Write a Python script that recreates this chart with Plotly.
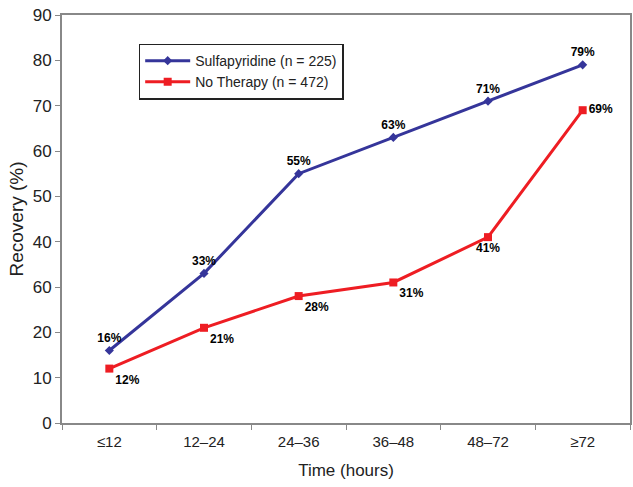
import plotly.graph_objects as go

categories = ["≤12", "12–24", "24–36", "36–48", "48–72", "≥72"]
sulfa = [16, 33, 55, 63, 71, 79]
no_therapy = [12, 21, 28, 31, 41, 69]
y_tickvals = [0, 10, 20, 30, 40, 50, 60, 70, 80, 90]
y_ticktext = ["0", "10", "20", "60", "40", "50", "60", "70", "80", "90"]

blue = "#35359A"
red = "#EE1D23"

lblfont = dict(family="Liberation Sans, Arial", size=12, color="black", weight="bold")

fig = go.Figure()
fig.add_trace(go.Scatter(
    x=categories, y=sulfa, name="Sulfapyridine (n = 225)",
    mode="lines+markers+text",
    line=dict(color=blue, width=3),
    marker=dict(symbol="diamond", size=7, color=blue),
    text=[f"{v}%" for v in sulfa], textposition="top center",
    textfont=lblfont,
))
fig.add_trace(go.Scatter(
    x=categories, y=no_therapy, name="No Therapy (n = 472)",
    mode="lines+markers+text",
    line=dict(color=red, width=3),
    marker=dict(symbol="square", size=8, color=red),
    text=[f"{v}%" for v in no_therapy],
    textposition=["bottom right", "bottom right", "bottom right", "bottom right", "bottom center", "middle right"],
    textfont=lblfont,
))

fig.update_layout(
    width=633, height=487,
    margin=dict(l=62, r=3, t=15, b=64),
    paper_bgcolor="white", plot_bgcolor="white",
    font=dict(family="Liberation Sans, Arial", color="#222"),
    showlegend=True,
    legend=dict(
        x=0.135, y=0.93, xanchor="left", yanchor="top",
        bordercolor="#222", borderwidth=1.5, bgcolor="white",
        font=dict(size=14, color="#222"),
        itemwidth=45, tracegroupgap=2,
    ),
)
fig.update_xaxes(
    type="category", range=[-0.5, 5.5], automargin=False,
    showline=True, linecolor="#888", linewidth=2, mirror=True,
    ticks="outside", tickson="boundaries", ticklen=5, tickcolor="#888",
    ticklabelstandoff=4,
    tickfont=dict(size=15, color="#222"),
    title=dict(text="Time (hours)", font=dict(size=17, color="#222"), standoff=15),
    showgrid=False,
)
fig.update_yaxes(
    range=[0, 90], tickvals=y_tickvals, ticktext=y_ticktext, automargin=False,
    showline=True, linecolor="#888", linewidth=2, mirror=True,
    ticks="outside", ticklen=5, tickcolor="#888",
    tickfont=dict(size=17, color="#222"),
    title=dict(text="Recovery (%)", font=dict(size=19, color="#222"), standoff=4),
    showgrid=False, zeroline=False,
)

fig.write_html(
    "out.html",
    config={"displayModeBar": False},
    post_script="document.body.style.margin='0';document.body.style.padding='0';",
)
